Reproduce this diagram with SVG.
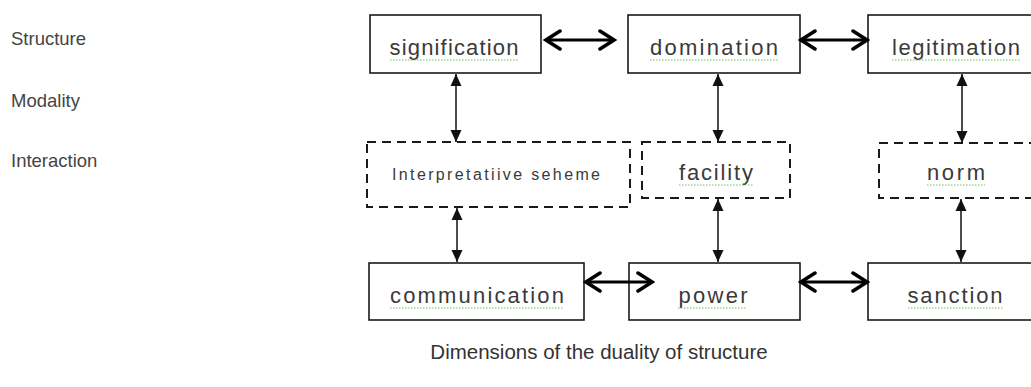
<svg xmlns="http://www.w3.org/2000/svg" width="1031" height="387" viewBox="0 0 1031 387">
<style>
  .box { fill: #ffffff; stroke: #1a1a1a; stroke-width: 1.6; }
  .dbox { fill: #ffffff; stroke: #1a1a1a; stroke-width: 2; stroke-dasharray: 9 6; }
  .lbl { font-family: "Liberation Sans", "DejaVu Sans", sans-serif; font-size: 22px; fill: #3a3a3a; text-anchor: middle; }
  .small { font-size: 16px; }
  .side { font-family: "Liberation Sans", "DejaVu Sans", sans-serif; font-size: 18.5px; fill: #444444; }
  .cap { font-family: "Liberation Sans", "DejaVu Sans", sans-serif; font-size: 20.5px; fill: #333333; text-anchor: middle; }
  .sq { stroke: #6cbf5a; stroke-width: 1.2; stroke-dasharray: 1.5 1.5; fill: none; }
  .harrow { stroke: #000; stroke-width: 3; fill: none; marker-start: url(#chev); marker-end: url(#chev); }
  .varrow { stroke: #111; stroke-width: 1.5; fill: none; marker-start: url(#tri); marker-end: url(#tri); }
</style>
<defs>
  <marker id="chev" viewBox="-17 -12 20 24" markerWidth="20" markerHeight="24" refX="0" refY="0" orient="auto-start-reverse" markerUnits="userSpaceOnUse">
    <path d="M-14,-9 L0,0 L-14,9" fill="none" stroke="#000" stroke-width="3.5" stroke-linecap="round" stroke-linejoin="miter"/>
  </marker>
  <marker id="tri" viewBox="-13 -7 14 14" markerWidth="14" markerHeight="14" refX="0" refY="0" orient="auto-start-reverse" markerUnits="userSpaceOnUse">
    <path d="M-12,-5.5 L0,0 L-12,5.5 Z" fill="#111"/>
  </marker>
</defs>
<rect width="1031" height="387" fill="#ffffff"/>

<g id="side-labels">
  <text class="side" x="11" y="45">Structure</text>
  <text class="side" x="11" y="107">Modality</text>
  <text class="side" x="11" y="167">Interaction</text>
</g>

<g id="signification">
  <rect class="box" x="370" y="15" width="171" height="58"/>
  <text class="lbl" x="454" y="55" textLength="129" lengthAdjust="spacing">signification</text>
  <line class="sq" x1="390" y1="60" x2="518" y2="60"/>
</g>
<g id="domination">
  <rect class="box" x="628" y="15" width="172" height="58"/>
  <text class="lbl" x="714" y="55" textLength="128" lengthAdjust="spacing">domination</text>
  <line class="sq" x1="650" y1="60" x2="778" y2="60"/>
</g>
<g id="legitimation">
  <rect class="box" x="868" y="15" width="180" height="58"/>
  <text class="lbl" x="956" y="55" textLength="128" lengthAdjust="spacing">legitimation</text>
  <line class="sq" x1="892" y1="60" x2="1020" y2="60"/>
</g>

<g id="interpretative">
  <rect class="dbox" x="367" y="142" width="263" height="65"/>
  <text class="lbl small" x="496" y="180" textLength="208" lengthAdjust="spacing">Interpretatiive seheme</text>
</g>
<g id="facility">
  <rect class="dbox" x="642" y="142" width="148" height="56"/>
  <text class="lbl" x="716" y="180" textLength="74" lengthAdjust="spacing">facility</text>
  <line class="sq" x1="679" y1="185" x2="753" y2="185"/>
</g>
<g id="norm">
  <rect class="dbox" x="879" y="143" width="170" height="55"/>
  <text class="lbl" x="956" y="180" textLength="58" lengthAdjust="spacing">norm</text>
  <line class="sq" x1="927" y1="185" x2="985" y2="185"/>
</g>

<g id="communication">
  <rect class="box" x="369" y="263" width="215" height="57"/>
  <text class="lbl" x="477" y="303" textLength="174" lengthAdjust="spacing">communication</text>
  <line class="sq" x1="390" y1="308" x2="564" y2="308"/>
</g>
<g id="power">
  <rect class="box" x="629" y="263" width="171" height="57"/>
  <text class="lbl" x="713" y="303" textLength="69" lengthAdjust="spacing">power</text>
  <line class="sq" x1="678" y1="308" x2="747" y2="308"/>
</g>
<g id="sanction">
  <rect class="box" x="868" y="263" width="180" height="57"/>
  <text class="lbl" x="955" y="303" textLength="95" lengthAdjust="spacing">sanction</text>
  <line class="sq" x1="908" y1="308" x2="1003" y2="308"/>
</g>

<g id="connectors">
  <line class="harrow" x1="546" y1="40" x2="614" y2="40"/>
  <line class="harrow" x1="801" y1="40" x2="867" y2="40"/>
  <line class="harrow" x1="586" y1="282" x2="652" y2="282"/>
  <line class="harrow" x1="801" y1="282" x2="867" y2="282"/>
  <line class="varrow" x1="456" y1="142" x2="456" y2="74"/>
  <line class="varrow" x1="718" y1="142" x2="718" y2="74"/>
  <line class="varrow" x1="962" y1="143" x2="962" y2="74"/>
  <line class="varrow" x1="457" y1="262" x2="457" y2="208"/>
  <line class="varrow" x1="718" y1="262" x2="718" y2="199"/>
  <line class="varrow" x1="961" y1="262" x2="961" y2="199"/>
</g>

<g id="caption">
  <text class="cap" x="599" y="359">Dimensions of the duality of structure</text>
</g>
</svg>
